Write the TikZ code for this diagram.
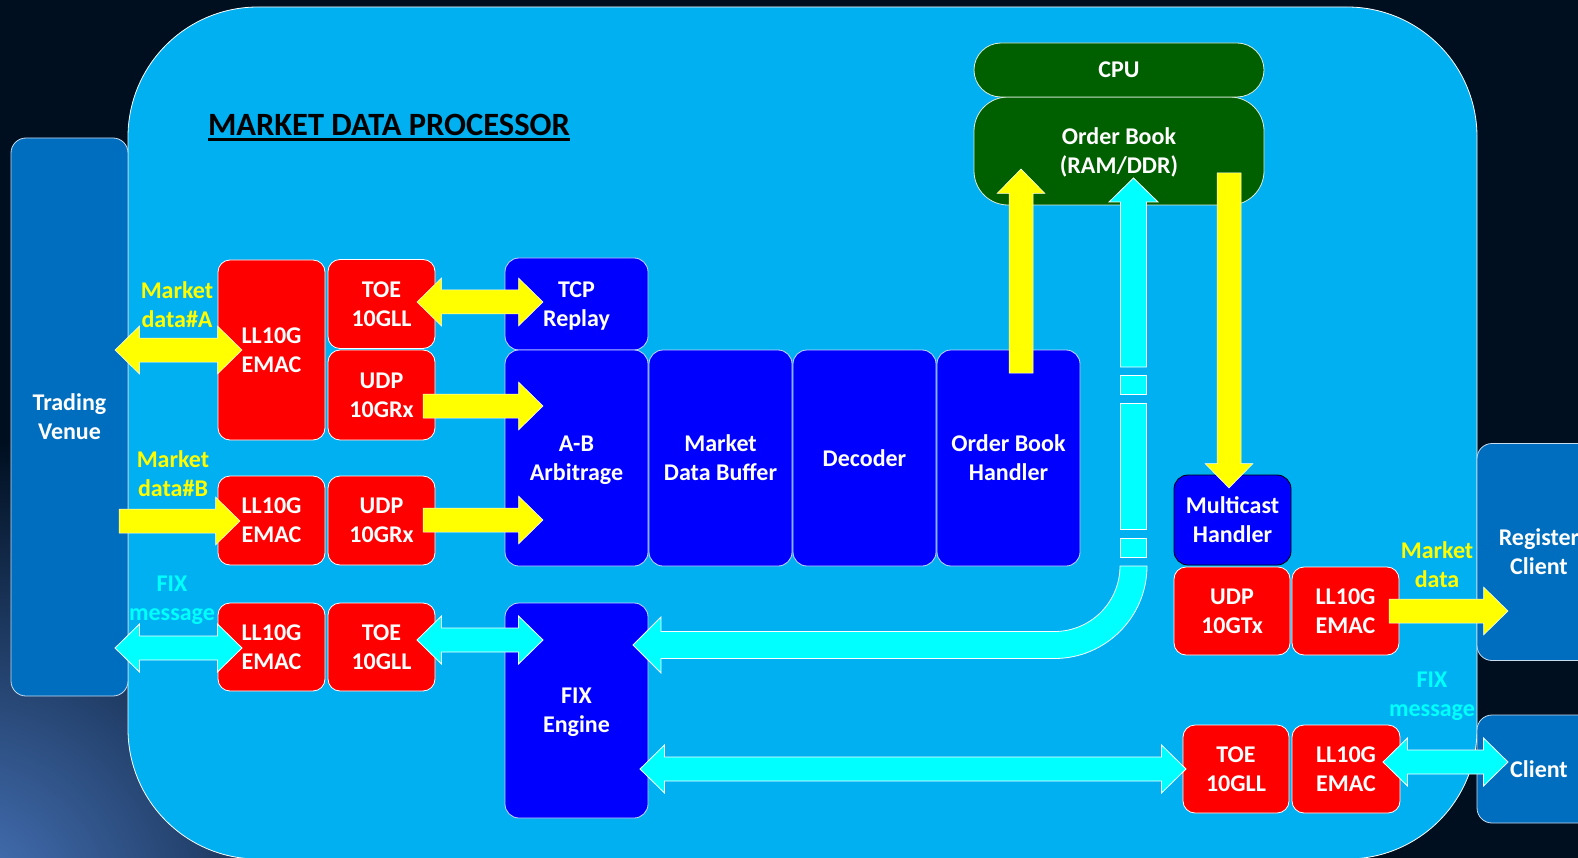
\documentclass[tikz,border=0pt]{standalone}
\usepackage{fontspec}
\setmainfont{Carlito}
\usetikzlibrary{calc}
\definecolor{bgnavy}{HTML}{000F20}
\definecolor{bglight}{HTML}{4A78C0}
\definecolor{mdpblue}{HTML}{00B0F0}
\definecolor{tvblue}{HTML}{006EBE}
\definecolor{ored}{HTML}{FF0000}
\definecolor{oblue}{HTML}{0000FF}
\definecolor{ogreen}{HTML}{006000}
\definecolor{oyellow}{HTML}{FFFF00}
\definecolor{ocyan}{HTML}{00FFFF}

\tikzset{
  every node/.style={font=\bfseries\fontsize{24}{29}\selectfont, align=center, inner sep=0pt, outer sep=0pt, text depth=0pt},
  sz/.style 2 args={minimum width=#1pt, minimum height=#2pt},
  blk/.style={draw=white, line width=0.8pt, text=white, rounded corners=12pt},
  redbox/.style={blk, fill=ored},
  bluebox/.style={blk, draw={rgb,255:red,200;green,215;blue,255}, fill=oblue, rounded corners=14pt},
  mcbox/.style={blk, draw=black, fill=oblue, rounded corners=14pt},
  greenbox/.style={blk, draw={rgb,255:red,220;green,235;blue,220}, fill=ogreen},
  tvbox/.style={blk, draw={rgb,255:red,200;green,220;blue,240}, fill=tvblue, rounded corners=15pt},
  bigbox/.style={draw=white, line width=0.8pt, fill=mdpblue, rounded corners=130pt},
  titlefont/.style={font=\bfseries\fontsize{32.5}{38}\selectfont, text=black},
  ylabel/.style={text=oyellow},
  clabel/.style={text=ocyan},
  yarrow/.style={fill=oyellow, draw=white, line width=0.5pt},
  carrow/.style={fill=ocyan, draw=white, line width=0.8pt},
}

% single block arrow: style, start, tip
\newcommand{\sarrow}[3]{%
  \coordinate (sah) at ($(#3)!24.5pt!(#2)$);
  \filldraw[#1] ($(#2)!12pt!90:(#3)$) -- ($(sah)!12pt!90:(#3)$) -- ($(sah)!24pt!90:(#3)$) -- (#3)
    -- ($(sah)!24pt!-90:(#3)$) -- ($(sah)!12pt!-90:(#3)$) -- ($(#2)!12pt!-90:(#3)$) -- cycle;}
% double block arrow: style, tip 1, tip 2
\newcommand{\darrow}[3]{%
  \coordinate (dha) at ($(#2)!24.5pt!(#3)$);
  \coordinate (dhb) at ($(#3)!24.5pt!(#2)$);
  \filldraw[#1] (#2) -- ($(dha)!24pt!90:(#3)$) -- ($(dha)!12pt!90:(#3)$) -- ($(dhb)!12pt!90:(#3)$)
    -- ($(dhb)!24pt!90:(#3)$) -- (#3) -- ($(dhb)!24pt!-90:(#3)$) -- ($(dhb)!12pt!-90:(#3)$)
    -- ($(dha)!12pt!-90:(#3)$) -- ($(dha)!24pt!-90:(#3)$) -- cycle;}

\begin{document}
\begin{tikzpicture}[x=1pt,y=-1pt]
\useasboundingbox (0,0) rectangle (1578,858);
\clip (0,0) rectangle (1578,858);
\fill[bgnavy] (0,0) rectangle (1578,858);
\shade[inner color=bglight, outer color=bgnavy] (-40,910) circle (470);

% main processor area
\node[bigbox, sz={1349}{852}] (mdp) at (802.5,433) {};
\node[titlefont, anchor=base west] (title) at (208,135.5) {MARKET DATA PROCESSOR};
\draw[line width=3pt] ($(title.base west)+(0,4.5)$) -- ($(title.base east)+(0,4.5)$);

% outside blocks
\node[tvbox, sz={117}{558}] (tv) at (69.5,417) {Trading\\Venue};
\node[tvbox, sz={124}{217}] (reg) at (1539,552) {Register\\Client};
\node[tvbox, sz={124}{108}] (cli) at (1539,769) {Client};

% CPU / order book
\node[greenbox, sz={290}{108}, rounded corners=34pt] (ob) at (1119,151) {Order Book\\(RAM/DDR)};
\node[greenbox, sz={290}{54}, rounded corners=27pt] (cpu) at (1119,70) {CPU};

% red network blocks
\node[redbox, sz={107}{180}] (emacA) at (271.5,350) {LL10G\\EMAC};
\node[redbox, sz={107}{89}] (toeA) at (381.5,304) {TOE\\10GLL};
\node[redbox, sz={107}{90}] (udpA) at (381.5,395) {UDP\\10GRx};
\node[redbox, sz={107}{89}] (emacB) at (271.5,520.5) {LL10G\\EMAC};
\node[redbox, sz={107}{89}] (udpB) at (381.5,520.5) {UDP\\10GRx};
\node[redbox, sz={107}{88}] (emacC) at (271.5,647) {LL10G\\EMAC};
\node[redbox, sz={107}{88}] (toeC) at (381.5,647) {TOE\\10GLL};
\node[redbox, sz={116}{88}] (udpT) at (1232,611) {UDP\\10GTx};
\node[redbox, sz={107}{88}] (emacT) at (1345.5,611) {LL10G\\EMAC};
\node[redbox, sz={106}{88}] (toeD) at (1236,769) {TOE\\10GLL};
\node[redbox, sz={108}{88}] (emacD) at (1346,769) {LL10G\\EMAC};

% blue processing blocks
\node[bluebox, sz={143}{92}] (tcp) at (576.5,304) {TCP\\Replay};
\node[bluebox, sz={143}{216}] (ab) at (576.5,458) {A-B\\Arbitrage};
\node[bluebox, sz={143}{216}] (mdb) at (720.5,458) {Market\\Data Buffer};
\node[bluebox, sz={143}{216}] (dec) at (864.5,458) {Decoder};
\node[bluebox, sz={143}{216}] (obh) at (1008.5,458) {Order Book\\Handler};
\node[bluebox, sz={143}{215}] (fix) at (576.5,710.5) {FIX\\Engine};
\node[mcbox, sz={117}{90}] (mch) at (1232.5,520) {Multicast\\Handler};

% labels
\node[ylabel] (lblA) at (177,305) {Market\\data\#A};
\node[ylabel] (lblB) at (173,474) {Market\\data\#B};
\node[clabel] (lblC) at (172,598) {FIX\\message};
\node[ylabel] (lblR) at (1437,565) {Market\\data};
\node[clabel] (lblF) at (1432,694) {FIX\\message};

% arrow end points
\coordinate (pA1) at (115,350);   \coordinate (pA2) at (242,350);
\coordinate (pT1) at (417,302);   \coordinate (pT2) at (543,302);
\coordinate (pU1) at (423,406);   \coordinate (pU2) at (543,406);
\coordinate (pB1) at (119,521);   \coordinate (pB2) at (240,521);
\coordinate (pV1) at (423,520);   \coordinate (pV2) at (543,520);
\coordinate (pO1) at (1021,373);  \coordinate (pO2) at (1021,169);
\coordinate (pM1) at (1229,173);  \coordinate (pM2) at (1229,488);
\coordinate (pR1) at (1389,611);  \coordinate (pR2) at (1508,611);
\coordinate (pC1) at (115,648);   \coordinate (pC2) at (242,648);
\coordinate (pF1) at (417,640);   \coordinate (pF2) at (543,640);
\coordinate (pE1) at (640,769);   \coordinate (pE2) at (1186,769);
\coordinate (pK1) at (1383,762);  \coordinate (pK2) at (1508,762);

% yellow arrows
\darrow{yarrow}{pA1}{pA2}
\darrow{yarrow}{pT1}{pT2}
\sarrow{yarrow}{pU1}{pU2}
\sarrow{yarrow}{pB1}{pB2}
\sarrow{yarrow}{pV1}{pV2}
\sarrow{yarrow}{pO1}{pO2}
\sarrow{yarrow}{pM1}{pM2}
\sarrow{yarrow}{pR1}{pR2}

% cyan arrows
\darrow{carrow}{pC1}{pC2}
\darrow{carrow}{pF1}{pF2}
\darrow{carrow}{pE1}{pE2}
\darrow{carrow}{pK1}{pK2}

% cyan path: order book handler region -> order book, and round to FIX engine
\filldraw[carrow] (1133.5,178) -- (1158,202) -- (1146.5,202) -- (1146.5,367) -- (1120.5,367)
  -- (1120.5,202) -- (1109,202) -- cycle;
\filldraw[carrow] (1120.5,375) rectangle (1146.5,394);
\filldraw[carrow] (1120.5,403) rectangle (1146.5,529);
\filldraw[carrow] (1120.5,538) rectangle (1146.5,557);
\filldraw[carrow] (1147,566) arc[start angle=0, end angle=-90, radius=92.5pt]
  -- (661,658.5) -- (661,673) -- (633,645) -- (661,617) -- (661,631.5) -- (1054.5,631.5)
  arc[start angle=-90, end angle=0, radius=65.5pt] -- cycle;
\end{tikzpicture}
\end{document}
